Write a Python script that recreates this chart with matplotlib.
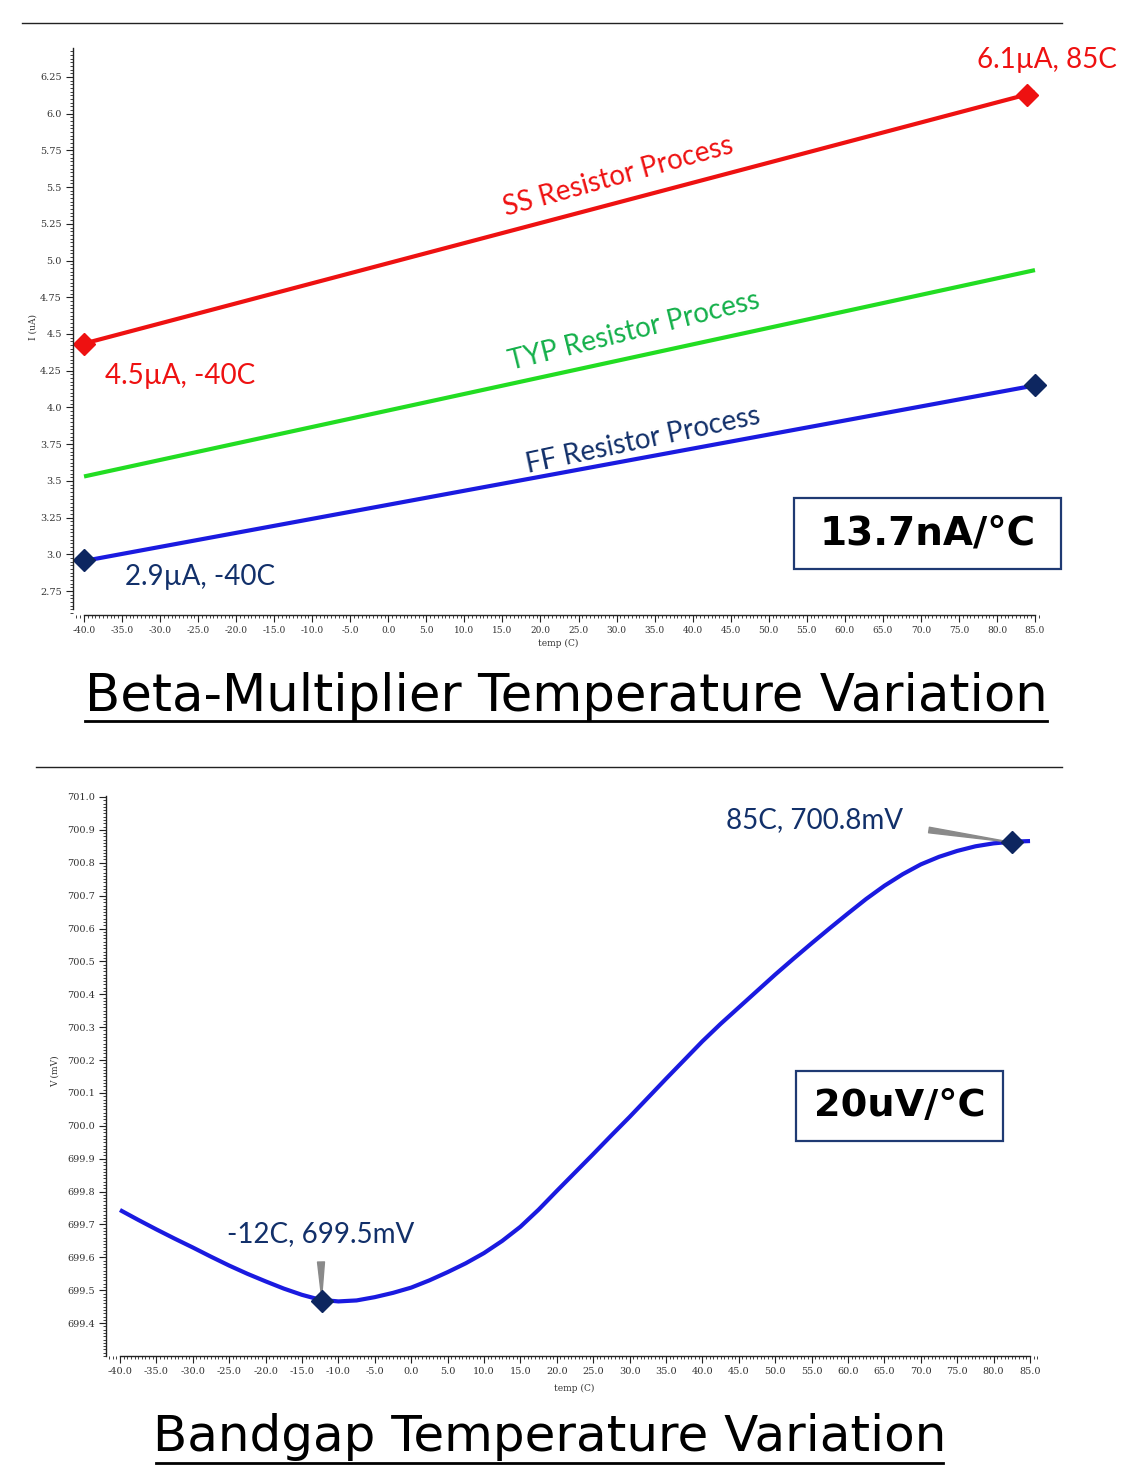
import matplotlib
matplotlib.use("Agg")
import matplotlib.pyplot as plt
from matplotlib.ticker import MultipleLocator, FixedLocator, FuncFormatter
from matplotlib.patches import Rectangle
from matplotlib.lines import Line2D

# ---------------- data ----------------
# Beta-multiplier current vs temperature (uA)
bm_temps = [-40, 85]
ss_current = [4.435, 6.145]
typ_current = [3.53, 4.935]
ff_current = [2.955, 4.15]
ss_marker_temps = [-40, 84]
ss_marker_vals = [4.435, 6.13]
ff_marker_temps = [-40, 85]
ff_marker_vals = [2.96, 4.15]
bm_yticks = [2.75, 3.0, 3.25, 3.5, 3.75, 4.0, 4.25, 4.5, 4.75, 5.0, 5.25, 5.5, 5.75, 6.0, 6.25]

# Bandgap voltage vs temperature (mV)
bg_temps = [-40, -37.5, -35, -32.5, -30, -27.5, -25, -22.5, -20, -17.5, -15, -12.5,
            -10, -7.5, -5, -2.5, 0, 2.5, 5, 7.5, 10, 12.5, 15, 17.5, 20, 22.5, 25,
            27.5, 30, 32.5, 35, 37.5, 40, 42.5, 45, 47.5, 50, 52.5, 55, 57.5, 60,
            62.5, 65, 67.5, 70, 72.5, 75, 77.5, 80, 82.5, 85]
bg_volts = [699.744, 699.714, 699.685, 699.657, 699.630, 699.602, 699.575, 699.550,
            699.527, 699.505, 699.486, 699.471, 699.466, 699.469, 699.479, 699.492,
            699.508, 699.530, 699.555, 699.582, 699.613, 699.650, 699.693, 699.745,
            699.802, 699.858, 699.914, 699.971, 700.027, 700.085, 700.143, 700.200,
            700.257, 700.310, 700.360, 700.410, 700.460, 700.508, 700.555, 700.601,
            700.646, 700.690, 700.730, 700.765, 700.795, 700.818, 700.836, 700.850,
            700.859, 700.864, 700.866]
bg_marker_temps = [-12.3, 82.5]
bg_marker_vals = [699.466, 700.862]
bg_yticks = [699.4, 699.5, 699.6, 699.7, 699.8, 699.9, 700.0, 700.1, 700.2,
             700.3, 700.4, 700.5, 700.6, 700.7, 700.8, 700.9, 701.0]
xticks = list(range(-40, 90, 5))

# ---------------- figure ----------------
W, H = 1146, 1466
fig = plt.figure(figsize=(W / 100, H / 100), dpi=100)


def fx(px):
    return px / W


def fy(py):
    return 1 - py / H


RED = "#ee1111"
GREEN = "#22dd22"
BLUE = "#1a1ae0"
NAVY = "#0d2660"
TXTNAVY = "#12306a"
TICKC = "#333333"
SERIF = "DejaVu Serif"
ANN = ["Lato", "DejaVu Sans"]


def style_axes(ax, xlim, ylim, ybounds, yminor, ylabfmt, xsize, ysize):
    ax.set_xlim(*xlim)
    ax.set_ylim(*ylim)
    for s in ("top", "right"):
        ax.spines[s].set_visible(False)
    ax.spines["bottom"].set_bounds(-40, 85)
    ax.spines["left"].set_bounds(*ybounds)
    for s in ("left", "bottom"):
        ax.spines[s].set_color("#222222")
        ax.spines[s].set_linewidth(1.0)
    ax.xaxis.set_major_locator(FixedLocator(xticks))
    ax.xaxis.set_minor_locator(MultipleLocator(0.5))
    ax.yaxis.set_minor_locator(MultipleLocator(yminor))
    ax.xaxis.set_major_formatter(FuncFormatter(lambda v, p: f"{v:.1f}"))
    ax.yaxis.set_major_formatter(FuncFormatter(ylabfmt))
    ax.tick_params(which="major", length=5, width=0.8, color="#222222",
                   labelcolor=TICKC, pad=3)
    ax.tick_params(which="minor", length=2.5, width=0.6, color="#222222")
    ax.tick_params(axis="x", labelsize=xsize)
    ax.tick_params(axis="y", labelsize=ysize)
    for lab in ax.get_xticklabels() + ax.get_yticklabels():
        lab.set_family(SERIF)
    ax.patch.set_alpha(0)


def fmt_bm(v, p):
    s = f"{v:.2f}"
    if s.endswith("0"):
        s = s[:-1]
    return s


# ---------------- top chart ----------------
ax1 = fig.add_axes([fx(73), fy(615), (1040 - 73) / W, (615 - 48) / H])
ax1.plot(bm_temps, ss_current, color=RED, lw=3.0, solid_capstyle="butt")
ax1.plot(bm_temps, typ_current, color=GREEN, lw=3.0, solid_capstyle="butt")
ax1.plot(bm_temps, ff_current, color=BLUE, lw=3.0, solid_capstyle="butt")
ax1.plot(ss_marker_temps, ss_marker_vals, ls="none", marker="D", ms=11,
         color=RED, clip_on=False)
ax1.plot(ff_marker_temps, ff_marker_vals, ls="none", marker="D", ms=11,
         color=NAVY, clip_on=False)
ax1.yaxis.set_major_locator(FixedLocator(bm_yticks))
style_axes(ax1, (-41.45, 85.66), (2.587, 6.447), (2.63, 6.447), 0.025,
           fmt_bm, 6.5, 7)
ax1.text(-0.041, 0.508, "I (uA)", transform=ax1.transAxes, rotation=90,
         ha="center", va="center", fontsize=6.5, family=SERIF, color=TICKC)
ax1.text(0.5015, -0.051, "temp (C)", transform=ax1.transAxes,
         ha="center", va="center", fontsize=6.5, family=SERIF, color=TICKC)

fig.text(fx(1047), fy(60), "6.1µA, 85C", ha="center", va="center",
         fontsize=20, color=RED, family=ANN)
fig.text(fx(180), fy(376), "4.5µA, -40C", ha="center", va="center",
         fontsize=20, color=RED, family=ANN)
fig.text(fx(200), fy(577), "2.9µA, -40C", ha="center", va="center",
         fontsize=20, color=TXTNAVY, family=ANN)
fig.text(fx(618), fy(177), "SS Resistor Process", ha="center", va="center",
         fontsize=20, color=RED, family=ANN, rotation=15.5)
fig.text(fx(634), fy(331), "TYP Resistor Process", ha="center", va="center",
         fontsize=20, color="#14b04a", family=ANN, rotation=14)
fig.text(fx(643), fy(440), "FF Resistor Process", ha="center", va="center",
         fontsize=20, color=TXTNAVY, family=ANN, rotation=12)

fig.patches.append(Rectangle((fx(794), fy(569)), (1061 - 794) / W, (569 - 498) / H,
                             transform=fig.transFigure, fill=False,
                             edgecolor="#1f3a73", lw=1.6))
fig.text(fx(928), fy(534), "13.7nA/°C", ha="center", va="center",
         fontsize=28, fontweight="bold", color="black", family="DejaVu Sans")

# title 1
fig.text(fx(566), fy(697), "Beta-Multiplier Temperature Variation",
         ha="center", va="center", fontsize=37, color="black", family="DejaVu Sans")
fig.lines.append(Line2D([fx(85), fx(1047)], [fy(721), fy(721)],
                        transform=fig.transFigure, color="black", lw=2))

# slide rules
fig.lines.append(Line2D([fx(22), fx(1062)], [fy(23), fy(23)],
                        transform=fig.transFigure, color="#222222", lw=1))
fig.lines.append(Line2D([fx(36), fx(1062)], [fy(767), fy(767)],
                        transform=fig.transFigure, color="#222222", lw=1))

# ---------------- bottom chart ----------------
ax2 = fig.add_axes([fx(106), fy(1356), (1040 - 106) / W, (1356 - 796) / H])
ax2.plot(bg_temps, bg_volts, color=BLUE, lw=3.0, solid_capstyle="butt",
         solid_joinstyle="round")
ax2.plot(bg_marker_temps, bg_marker_vals, ls="none", marker="D", ms=11,
         color=NAVY, clip_on=False, zorder=5)
ax2.yaxis.set_major_locator(FixedLocator(bg_yticks))
style_axes(ax2, (-41.92, 86.37), (699.30, 701.003), (699.30, 701.003), 0.01,
           lambda v, p: f"{v:.1f}", 7, 7)
ax2.text(-0.055, 0.508, "V (mV)", transform=ax2.transAxes, rotation=90,
         ha="center", va="center", fontsize=6.5, family=SERIF, color=TICKC)
ax2.text(0.501, -0.058, "temp (C)", transform=ax2.transAxes,
         ha="center", va="center", fontsize=6.5, family=SERIF, color=TICKC)

ax2.annotate("", xy=(bg_marker_temps[0], bg_marker_vals[0] + 0.012), xycoords="data",
             xytext=(321, H - 1262), textcoords="figure pixels",
             arrowprops=dict(arrowstyle="wedge,tail_width=0.5,shrink_factor=0.5",
                             color="#8a8a8a", shrinkA=0, shrinkB=0))
ax2.annotate("", xy=(bg_marker_temps[1], bg_marker_vals[1]), xycoords="data",
             xytext=(929, H - 830), textcoords="figure pixels",
             arrowprops=dict(arrowstyle="wedge,tail_width=0.4,shrink_factor=0.5",
                             color="#8a8a8a", shrinkA=0, shrinkB=0))
fig.text(fx(321), fy(1234), "-12C, 699.5mV", ha="center", va="center",
         fontsize=20, color=TXTNAVY, family=ANN)
fig.text(fx(815), fy(820), "85C, 700.8mV", ha="center", va="center",
         fontsize=20, color=TXTNAVY, family=ANN)

fig.patches.append(Rectangle((fx(796), fy(1141)), (1003 - 796) / W, (1141 - 1071) / H,
                             transform=fig.transFigure, fill=False,
                             edgecolor="#1f3a73", lw=1.6))
fig.text(fx(900), fy(1106), "20uV/°C", ha="center", va="center",
         fontsize=27.5, fontweight="bold", color="black", family="DejaVu Sans")

fig.text(fx(550), fy(1437), "Bandgap Temperature Variation",
         ha="center", va="center", fontsize=36, color="black", family="DejaVu Sans")
fig.lines.append(Line2D([fx(156), fx(943)], [fy(1463), fy(1463)],
                        transform=fig.transFigure, color="black", lw=2))

fig.savefig("out.png", dpi=100, facecolor="white")
